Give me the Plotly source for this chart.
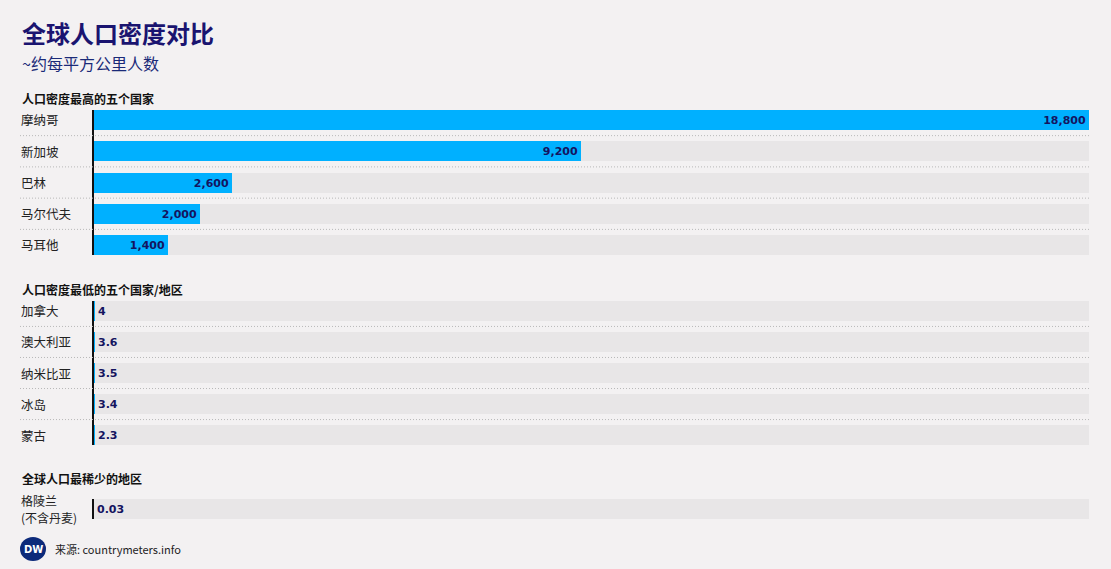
import plotly.graph_objects as go

W, H = 1111, 569

title = "全球人口密度对比"
subtitle = "~约每平方公里人数"
source = "来源: countrymeters.info"

sec1_title = "人口密度最高的五个国家"
sec1_names = [["摩纳哥"], ["新加坡"], ["巴林"], ["马尔代夫"], ["马耳他"]]
sec1_values = [18800, 9200, 2600, 2000, 1400]
sec1_labels = ["18,800", "9,200", "2,600", "2,000", "1,400"]

sec2_title = "人口密度最低的五个国家/地区"
sec2_names = [["加拿大"], ["澳大利亚"], ["纳米比亚"], ["冰岛"], ["蒙古"]]
sec2_values = [4, 3.6, 3.5, 3.4, 2.3]
sec2_labels = ["4", "3.6", "3.5", "3.4", "2.3"]

sec3_title = "全球人口最稀少的地区"
sec3_names = [["格陵兰", "(不含丹麦)"]]
sec3_values = [0.03]
sec3_labels = ["0.03"]

XMAX = 18800

BG = "#f3f1f2"
TRACK = "#e8e6e7"
BAR = "#00b0ff"
NAVY = "#14145f"
FONT = "Noto Sans CJK SC"
NUMFONT = "DejaVu Sans"

def px_x(p):
    return p / W

def px_y(p):
    return 1 - p / H

BW = 0.64
LINE_GAP = 17.5

sections = [
    (sec1_title, sec1_names, sec1_values, sec1_labels, 110, 255, 99, False),
    (sec2_title, sec2_names, sec2_values, sec2_labels, 301, 445, 289, True),
    (sec3_title, sec3_names, sec3_values, sec3_labels, 499, 519, 478, True),
]

fig = go.Figure()
annotations = []
shapes = []
layout_axes = {}

for i, (sec_title, names, values, labels, top, bot, hy, outside) in enumerate(sections):
    k = "" if i == 0 else str(i + 1)
    xa, ya = "x" + k, "y" + k
    n = len(names)
    ys = list(range(n))
    fig.add_trace(go.Bar(
        x=[XMAX] * n, y=ys, orientation="h", width=BW,
        marker=dict(color=TRACK, line=dict(width=0)),
        xaxis=xa, yaxis=ya, hoverinfo="skip", showlegend=False,
    ))
    fig.add_trace(go.Bar(
        x=values, y=ys, orientation="h", width=BW,
        marker=dict(color=BAR, line=dict(width=0)),
        text=labels,
        textposition="outside" if outside else "inside",
        insidetextanchor="end",
        textfont=dict(color=NAVY, size=11, family=NUMFONT, weight="bold"),
        cliponaxis=False,
        xaxis=xa, yaxis=ya, showlegend=False,
    ))
    lo = -BW / 2
    hi = (n - 1) + BW / 2
    layout_axes["xaxis" + k] = dict(
        domain=[px_x(94), px_x(1089)], range=[0, XMAX],
        showticklabels=False, showgrid=False, zeroline=False, fixedrange=True,
        anchor=ya,
    )
    layout_axes["yaxis" + k] = dict(
        domain=[px_y(bot), px_y(top)], range=[hi, lo],
        showticklabels=False, showgrid=False, zeroline=False,
        showline=True, linecolor="#111111", linewidth=1.5,
        anchor=xa, fixedrange=True,
    )
    annotations.append(dict(
        text="<b>" + sec_title + "</b>", x=px_x(20), y=px_y(hy),
        xref="paper", yref="paper", xanchor="left", yanchor="middle",
        showarrow=False, font=dict(size=12, color="#111111", family=FONT),
    ))
    for j, lines in enumerate(names):
        m = len(lines)
        fs = 12.5 if m == 1 else 12
        for li, nm in enumerate(lines):
            annotations.append(dict(
                text=nm, x=px_x(20), y=j, xref="paper", yref=ya,
                xanchor="left", yanchor="middle", align="left",
                yshift=(m - 1) * LINE_GAP / 2 - li * LINE_GAP,
                borderpad=0,
                showarrow=False, font=dict(size=fs, color="#222222", family=FONT),
            ))
    for j in range(n - 1):
        shapes.append(dict(
            type="line", xref="paper", yref=ya,
            x0=px_x(20), x1=px_x(1089), y0=j + 0.5, y1=j + 0.5,
            line=dict(color="#b8b8b8", width=1, dash="1px,2px"),
        ))

annotations.append(dict(
    text="<b>" + title + "</b>", x=px_x(20), y=px_y(32),
    xref="paper", yref="paper", xanchor="left", yanchor="middle",
    showarrow=False, font=dict(size=24, color="#1a1470", family=FONT),
))
annotations.append(dict(
    text=subtitle, x=px_x(20), y=px_y(63),
    xref="paper", yref="paper", xanchor="left", yanchor="middle",
    showarrow=False, font=dict(size=16, color="#1a2a78", family=FONT),
))
shapes.append(dict(
    type="circle", xref="paper", yref="paper",
    x0=px_x(20), x1=px_x(46), y0=px_y(561), y1=px_y(537),
    fillcolor="#0c2a7a", line=dict(color="#0c2a7a", width=0),
))
annotations.append(dict(
    text="<b>DW</b>", x=px_x(33), y=px_y(549),
    xref="paper", yref="paper", xanchor="center", yanchor="middle",
    showarrow=False, font=dict(size=10, color="#ffffff", family="DejaVu Sans"),
))
annotations.append(dict(
    text=source, x=px_x(53), y=px_y(549),
    xref="paper", yref="paper", xanchor="left", yanchor="middle",
    showarrow=False, font=dict(size=11, color="#222222", family=FONT),
))

fig.update_layout(
    width=W, height=H,
    margin=dict(l=0, r=0, t=0, b=0),
    paper_bgcolor=BG, plot_bgcolor=BG,
    barmode="overlay", bargap=0,
    font=dict(family=FONT),
    annotations=annotations, shapes=shapes,
    showlegend=False,
    **layout_axes,
)

fig.write_html(
    "out.html",
    config={"displayModeBar": False},
    post_script="document.body.style.margin='0';document.body.style.overflow='hidden';document.body.style.background='" + BG + "';",
)
